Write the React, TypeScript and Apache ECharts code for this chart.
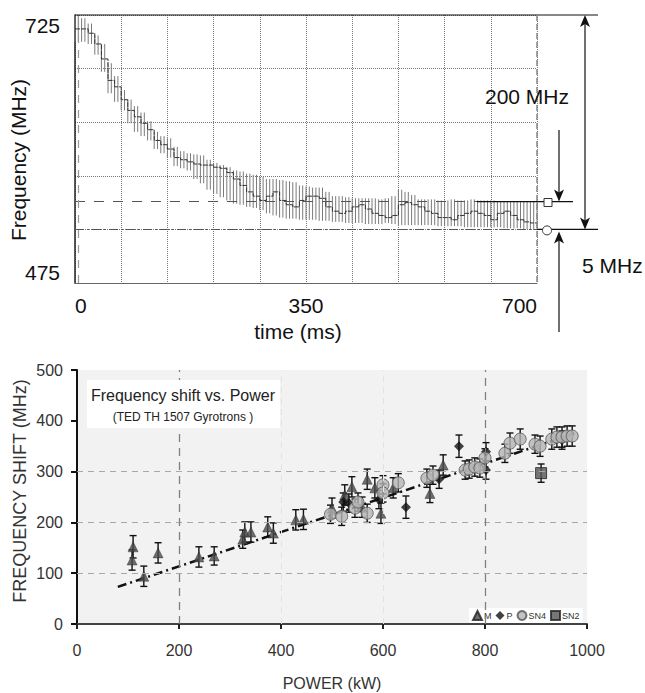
import React, { useEffect, useRef } from "react";
import * as echarts from "echarts";

// ---------- Top chart: frequency vs time ----------
const timeMs = [
  0, 10, 20, 30, 40, 50, 60, 70, 80, 90, 100, 110, 120, 130, 140, 150, 160, 170, 180, 190,
  200, 210, 220, 230, 240, 250, 260, 270, 280, 290, 300, 310, 320, 330, 340, 350, 360, 370, 380, 390,
  400, 410, 420, 430, 440, 450, 460, 470, 480, 490, 500, 510, 520, 530, 540, 550, 560, 570, 580, 590,
  600, 610, 620, 630, 640, 650, 660, 670, 680, 690, 700,
];
const bandHigh = [
  725, 722, 717, 706, 698, 680, 668, 655, 646, 640, 634, 626, 616, 612, 610, 602, 598, 596, 595, 594,
  590, 587, 585, 583, 580, 579, 577, 576, 574, 572, 572, 571, 570, 569, 566, 565, 564, 564, 560, 556,
  556, 555, 554, 554, 554, 554, 553, 554, 556, 562, 560, 557, 553, 553, 553, 552, 552, 553, 552, 552,
  553, 552, 552, 552, 551, 551, 551, 551, 551, 551, 551,
];
const bandLow = [
  700, 700, 698, 688, 672, 652, 644, 636, 624, 616, 612, 608, 600, 596, 592, 584, 582, 580, 572, 568,
  562, 558, 555, 552, 549, 548, 546, 545, 543, 540, 538, 536, 535, 535, 534, 534, 534, 533, 533, 532,
  532, 531, 531, 531, 530, 530, 530, 531, 530, 529, 529, 529, 529, 529, 529, 528, 528, 528, 528, 527,
  527, 527, 527, 527, 527, 526, 526, 526, 525, 525, 525,
];
const stepMid = [
  712, 712, 708, 698, 684, 664, 658, 646, 636, 630, 624, 618, 608, 604, 600, 592, 590, 588, 586, 585,
  585, 583, 582, 578, 572, 566, 560, 556, 552, 556, 560, 552, 548, 546, 552, 556, 556, 554, 546, 542,
  540, 542, 546, 548, 544, 540, 538, 536, 538, 548, 550, 548, 546, 542, 540, 536, 536, 534, 538, 540,
  542, 540, 538, 534, 540, 542, 538, 534, 532, 531, 531,
];
const timeTickLabels = [0, 350, 700];
const freqTickLabels = [475, 725];
const finalFreq = 551; // square marker level
const startFreq = 725;
const settledFreq = 525; // circle marker level
const startMarkerTime = 5;

// ---------- Bottom chart: frequency shift vs power ----------
const mPower = [108, 110, 131, 159, 239, 269, 325, 329, 341, 374, 385, 429, 444, 500, 525, 539, 559, 569, 584, 596, 620, 692, 718];
const mShift = [126, 152, 94, 140, 132, 134, 167, 181, 181, 191, 179, 205, 206, 228, 254, 270, 230, 285, 268, 218, 268, 257, 313];
const mErr = [20, 22, 20, 20, 20, 18, 18, 20, 20, 20, 20, 20, 20, 20, 20, 20, 20, 20, 20, 20, 20, 18, 20];

const pPower = [522, 533, 592, 645, 710, 749, 802, 802, 951];
const pShift = [240, 238, 245, 230, 285, 350, 339, 303, 362];
const pErr = [18, 18, 18, 22, 18, 22, 18, 18, 18];

const sn4Power = [497, 519, 545, 551, 569, 600, 600, 630, 686, 698, 761, 769, 780, 790, 800, 839, 849, 869, 898, 908, 931, 941, 951, 961, 971];
const sn4Shift = [216, 212, 228, 240, 218, 274, 258, 278, 287, 293, 303, 305, 309, 307, 327, 336, 356, 364, 354, 350, 364, 368, 368, 370, 370];
const sn4Err = [18, 18, 18, 18, 18, 18, 18, 18, 18, 18, 18, 18, 18, 18, 18, 18, 20, 20, 18, 20, 20, 20, 20, 20, 20];

const sn2Power = [910];
const sn2Shift = [297];
const sn2Err = [18];

const fitPower = [80, 975];
const fitShift = [73, 375];

const hGridShift = [100, 200, 300];
const vGridPowerStrong = [200, 800];
const vGridPowerFaint = [400, 600];

const FONT = "'Liberation Sans', Arial, Helvetica, sans-serif";

export default function App() {
  const ref = useRef<HTMLDivElement>(null);

  useEffect(() => {
    const chart = echarts.init(ref.current!, null, { renderer: "svg" });

    const errData: number[][] = [];
    const pushErr = (xs: number[], ys: number[], es: number[]) =>
      xs.forEach((x, i) => errData.push([x, ys[i] - es[i], ys[i] + es[i]]));
    pushErr(mPower, mShift, mErr);
    pushErr(pPower, pShift, pErr);
    pushErr(sn4Power, sn4Shift, sn4Err);
    pushErr(sn2Power, sn2Shift, sn2Err);

    const option: any = {
      animation: false,
      backgroundColor: "#ffffff",
      textStyle: { fontFamily: FONT },
      grid: [
        { left: 75, top: 15, width: 462, height: 268, show: false },
        { left: 77, top: 370, width: 510, height: 254, show: true, backgroundColor: "#f2f2f2", borderWidth: 0 },
      ],
      legend: {
        data: [
          { name: "M", icon: "triangle" },
          { name: "P", icon: "diamond" },
          { name: "SN4", icon: "circle" },
          { name: "SN2", icon: "rect" },
        ],
        left: 469,
        top: 608,
        itemWidth: 9,
        itemHeight: 9,
        itemGap: 4,
        padding: [2, 3],
        backgroundColor: "#ffffff",
        textStyle: { fontSize: 9, color: "#333", fontFamily: FONT, padding: [0, 0, 0, -3] },
        selectedMode: false,
      },
      xAxis: [
        {
          type: "value",
          gridIndex: 0,
          min: 0,
          max: 700,
          interval: 70,
          axisLine: { show: true, lineStyle: { color: "#666", width: 1 } },
          axisTick: { show: false },
          axisLabel: {
            formatter: (v: number) => (timeTickLabels.includes(v) ? String(v) : ""),
            fontSize: 21,
            color: "#111",
            margin: 12,
            fontFamily: FONT,
            alignMinLabel: "left",
            alignMaxLabel: "right",
          },
          splitLine: { show: true, lineStyle: { type: "dotted", color: "#777", width: 1 } },
        },
        {
          type: "value",
          gridIndex: 1,
          min: 0,
          max: 1000,
          interval: 200,
          axisLine: { show: true, onZero: false, lineStyle: { color: "#444", width: 2 } },
          axisTick: { show: true, length: 5, lineStyle: { color: "#222", width: 2 } },
          axisLabel: { fontSize: 16, color: "#333", margin: 18, fontFamily: FONT, formatter: (v: number) => String(v) },
          splitLine: { show: false },
        },
      ],
      yAxis: [
        {
          type: "value",
          gridIndex: 0,
          min: 475,
          max: 725,
          interval: 50,
          axisLine: { show: true, lineStyle: { color: "#222", width: 1.5 } },
          axisTick: { show: false },
          axisLabel: {
            formatter: (v: number) => (freqTickLabels.includes(v) ? String(v) : ""),
            fontSize: 21,
            color: "#111",
            margin: 15,
            fontFamily: FONT,
            verticalAlignMinLabel: "bottom",
            verticalAlignMaxLabel: "top",
          },
          splitLine: { show: true, lineStyle: { type: "dotted", color: "#777", width: 1 } },
        },
        {
          type: "value",
          gridIndex: 1,
          min: 0,
          max: 500,
          interval: 100,
          axisLine: { show: true, onZero: false, lineStyle: { color: "#111", width: 2 } },
          axisTick: { show: true, length: 6, lineStyle: { color: "#111", width: 2 } },
          axisLabel: { fontSize: 16, color: "#333", margin: 14, fontFamily: FONT },
          splitLine: { show: false },
        },
      ],
      series: [
        {
          type: "custom",
          name: "band",
          xAxisIndex: 0,
          yAxisIndex: 0,
          silent: true,
          data: timeMs.map((t, i) => [t, bandLow[i], bandHigh[i]]),
          encode: { x: 0, y: [1, 2] },
          renderItem: (params: any, api: any) => {
            const t = api.value(0);
            const lo = api.value(1);
            const hi = api.value(2);
            const a = api.coord([t, lo]);
            const b = api.coord([t, hi]);
            const st = { stroke: "#7a7a7a", lineWidth: 1 };
            const children: any[] = [
              { type: "line", shape: { x1: a[0], y1: a[1], x2: b[0], y2: b[1] }, style: st },
            ];
            if (t + 5 <= 700) {
              const c = api.coord([t + 5, lo]);
              children.push({ type: "line", shape: { x1: c[0], y1: a[1], x2: c[0], y2: b[1] }, style: st });
            }
            return { type: "group", children };
          },
          markLine: {
            silent: true,
            symbol: ["none", "none"],
            label: { show: false },
            data: [
              { yAxis: finalFreq, lineStyle: { color: "#555", type: [10, 9], width: 1.2 } },
              { yAxis: settledFreq, lineStyle: { color: "#555", type: [9, 3, 2, 3], width: 1.2 } },
              { xAxis: startMarkerTime, lineStyle: { color: "#999", type: [8, 7], width: 1.2 } },
            ],
          },
          z: 2,
        },
        {
          type: "line",
          name: "mean",
          xAxisIndex: 0,
          yAxisIndex: 0,
          step: "end",
          showSymbol: false,
          silent: true,
          lineStyle: { color: "#333", width: 1, type: [5, 1] },
          data: timeMs.map((t, i) => [t, stepMid[i]]),
          z: 3,
        },
        {
          type: "line",
          name: "fit",
          xAxisIndex: 1,
          yAxisIndex: 1,
          showSymbol: false,
          silent: true,
          lineStyle: { color: "#111", width: 2.5, type: [9, 4, 2, 4] },
          data: fitPower.map((x, i) => [x, fitShift[i]]),
          markLine: {
            silent: true,
            symbol: ["none", "none"],
            label: { show: false },
            data: [
              ...hGridShift.map((v) => ({ yAxis: v, lineStyle: { color: "#a8a8a8", type: [6, 5], width: 1 } })),
              ...vGridPowerStrong.map((v) => ({ xAxis: v, lineStyle: { color: "#808080", type: [8, 6], width: 1.3 } })),
              ...vGridPowerFaint.map((v) => ({ xAxis: v, lineStyle: { color: "#e2e2e2", type: [6, 5], width: 1 } })),
            ],
          },
          z: 2,
        },
        {
          type: "custom",
          name: "errors",
          xAxisIndex: 1,
          yAxisIndex: 1,
          silent: true,
          data: errData,
          encode: { x: 0, y: [1, 2] },
          renderItem: (params: any, api: any) => {
            const x = api.value(0);
            const a = api.coord([x, api.value(1)]);
            const b = api.coord([x, api.value(2)]);
            const st = { stroke: "#111", lineWidth: 1.4 };
            return {
              type: "group",
              children: [
                { type: "line", shape: { x1: a[0], y1: a[1], x2: b[0], y2: b[1] }, style: st },
                { type: "line", shape: { x1: a[0] - 3.5, y1: a[1], x2: a[0] + 3.5, y2: a[1] }, style: st },
                { type: "line", shape: { x1: b[0] - 3.5, y1: b[1], x2: b[0] + 3.5, y2: b[1] }, style: st },
              ],
            };
          },
          z: 3,
        },
        {
          type: "scatter",
          name: "M",
          xAxisIndex: 1,
          yAxisIndex: 1,
          symbol: "triangle",
          symbolSize: 10,
          itemStyle: { color: "#4a4a4a", borderColor: "#222", borderWidth: 0.5 },
          data: mPower.map((x, i) => [x, mShift[i]]),
          z: 4,
        },
        {
          type: "scatter",
          name: "P",
          xAxisIndex: 1,
          yAxisIndex: 1,
          symbol: "diamond",
          symbolSize: 10,
          itemStyle: { color: "#111" },
          data: pPower.map((x, i) => [x, pShift[i]]),
          z: 4,
        },
        {
          type: "scatter",
          name: "SN4",
          xAxisIndex: 1,
          yAxisIndex: 1,
          symbol: "circle",
          symbolSize: 12,
          itemStyle: { color: "#b4b4b4", borderColor: "#555", borderWidth: 1 },
          data: sn4Power.map((x, i) => [x, sn4Shift[i]]),
          z: 4,
        },
        {
          type: "scatter",
          name: "SN2",
          xAxisIndex: 1,
          yAxisIndex: 1,
          symbol: "rect",
          symbolSize: 11,
          itemStyle: { color: "#555", borderColor: "#222", borderWidth: 1 },
          data: sn2Power.map((x, i) => [x, sn2Shift[i]]),
          z: 4,
        },
      ],
    };

    chart.setOption(option);

    const p0 = (t: number, f: number) => chart.convertToPixel({ gridIndex: 0 }, [t, f]) as number[];
    const [xL, yTop] = p0(0, startFreq);
    const [xR, yBot] = p0(700, 475);
    const ySq = p0(0, finalFreq)[1];
    const yCi = p0(0, settledFreq)[1];
    const xBig = 585;
    const xSmall = 559;
    const lineSt = { stroke: "#111", lineWidth: 1.2 };
    const txt = (text: string, x: number, y: number, size: number, align: string, extra: any = {}) => ({
      type: "text",
      x,
      y,
      ...extra,
      style: {
        text,
        font: `${size}px ${FONT}`,
        fill: extra.fill || "#111",
        textAlign: align,
        align,
        textVerticalAlign: "middle",
        verticalAlign: "middle",
      },
    });

    chart.setOption({
      graphic: [
        // frame of top plot
        { type: "line", shape: { x1: xL, y1: yTop, x2: 598, y2: yTop }, style: lineSt, z: 10 },
        { type: "line", shape: { x1: xR, y1: yTop, x2: xR, y2: yBot }, style: { stroke: "#888", lineWidth: 1.5, lineDash: [6, 3] }, z: 10 },
        { type: "line", shape: { x1: xR, y1: yCi, x2: 598, y2: yCi }, style: lineSt, z: 10 },
        { type: "line", shape: { x1: xR - 60, y1: ySq, x2: 573, y2: ySq }, style: lineSt, z: 10 },
        { type: "rect", shape: { x: 544, y: ySq - 3, width: 8, height: 8 }, style: { fill: "#fff", stroke: "#333", lineWidth: 1 }, z: 11 },
        { type: "circle", shape: { cx: 547, cy: yCi + 1, r: 4.5 }, style: { fill: "#fff", stroke: "#333", lineWidth: 1 }, z: 11 },
        // big double arrow
        { type: "line", shape: { x1: xBig, y1: yTop + 4, x2: xBig, y2: yCi - 4 }, style: lineSt, z: 10 },
        { type: "polygon", shape: { points: [[xBig, yTop], [xBig - 5, yTop + 12], [xBig, yTop + 9], [xBig + 5, yTop + 12]] }, style: { fill: "#111" }, z: 10 },
        { type: "polygon", shape: { points: [[xBig, yCi], [xBig - 5, yCi - 12], [xBig, yCi - 9], [xBig + 5, yCi - 12]] }, style: { fill: "#111" }, z: 10 },
        // small arrows
        { type: "line", shape: { x1: xSmall, y1: 130, x2: xSmall, y2: ySq - 4 }, style: lineSt, z: 10 },
        { type: "polygon", shape: { points: [[xSmall, ySq], [xSmall - 5, ySq - 12], [xSmall, ySq - 9], [xSmall + 5, ySq - 12]] }, style: { fill: "#111" }, z: 10 },
        { type: "line", shape: { x1: xSmall, y1: yCi + 6, x2: xSmall, y2: 332 }, style: lineSt, z: 10 },
        { type: "polygon", shape: { points: [[xSmall, yCi + 2], [xSmall - 5, yCi + 14], [xSmall, yCi + 11], [xSmall + 5, yCi + 14]] }, style: { fill: "#111" }, z: 10 },
        // texts top chart
        txt("200 MHz", 485, 96, 21, "left", { z: 12 }),
        txt("5 MHz", 582, 265, 21, "left", { z: 12 }),
        txt("time (ms)", 298, 331, 21, "center", { z: 12 }),
        txt("Frequency (MHz)", 18, 160, 21, "center", { rotation: Math.PI / 2, z: 12 }),
        // bottom chart title box
        { type: "rect", shape: { x: 87, y: 380, width: 193, height: 48 }, style: { fill: "#ffffff" }, z: 5 },
        txt("Frequency shift vs. Power", 183, 395, 16, "center", { z: 12, fill: "#222" }),
        txt("(TED TH 1507 Gyrotrons )", 183, 417, 12, "center", { z: 12, fill: "#222" }),
        txt("FREQUENCY SHIFT (MHz)", 20, 491, 18, "center", { rotation: Math.PI / 2, z: 12, fill: "#333" }),
        txt("POWER (kW)", 332, 683, 16, "center", { z: 12, fill: "#333" }),
      ],
    });

    return () => chart.dispose();
  }, []);

  return <div ref={ref} style={{ position: "absolute", left: 0, top: 0, width: 645, height: 693 }} />;
}
